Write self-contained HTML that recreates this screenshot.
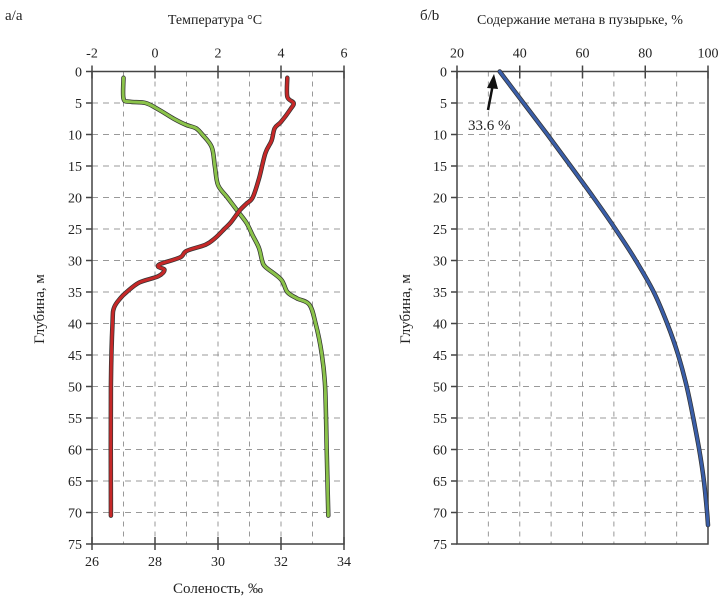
<!DOCTYPE html>
<html><head><meta charset="utf-8"><style>
body{margin:0;background:#fff;}
svg text{font-family:"Liberation Serif",serif;fill:#222;}
</style></head><body>
<svg id="c" width="727" height="603" viewBox="0 0 727 603" xmlns="http://www.w3.org/2000/svg"></svg>
<script>
const depthTicks=[0,5,10,15,20,25,30,35,40,45,50,55,60,65,70,75];
const tempTicks=[-2,0,2,4,6];
const salTicks=[26,28,30,32,34];
const methTicks=[20,40,60,80,100];
const tempDepth=[1,4.3,4.8,5,6,7.5,8.5,9,10,12,15,18,20,22,24,26,28,30,31,33,35,36,37,40,45,50,60,70.5];
const tempVal=[-1,-1,-0.8,-0.3,0.1,0.6,1.0,1.3,1.5,1.8,1.9,2.0,2.3,2.6,2.9,3.1,3.3,3.4,3.5,4.0,4.2,4.5,4.9,5.1,5.3,5.4,5.45,5.5];
const salDepth=[1,4,5,6,8,9,11,13,17,20,21,22,24,25,26.5,27.5,28.5,29.5,30.5,31,31.5,32.5,33.5,35,36,37.5,40,50,70.5];
const salVal=[32.2,32.2,32.4,32.3,32.0,31.8,31.7,31.5,31.3,31.1,30.9,30.7,30.4,30.2,29.9,29.6,29.0,28.8,28.2,28.1,28.3,28.1,27.5,27.1,26.9,26.7,26.65,26.6,26.6];
const methDepth=[0,5,10,15,20,25,30,35,40,45,50,55,60,65,70,72];
const methVal=[33.6,41.2,48.8,56.2,63.5,70.5,77,82.7,87,90.5,93.2,95.3,97.2,98.7,99.7,100];

const S=document.getElementById('c');const NS='http://www.w3.org/2000/svg';
function el(t,a,p){const e=document.createElementNS(NS,t);for(const k in a)e.setAttribute(k,a[k]);(p||S).appendChild(e);return e;}
function txt(x,y,s,size,anchor,name){const t=el('text',{x:x,y:y,'font-size':size,'text-anchor':anchor||'middle'});t.textContent=s;

return t;}
const Y0=71.5,YS=6.3;const yD=d=>Y0+d*YS;
function panel(L,R,xmin,xmax,xticks,pfx){
 const xs=v=>L+(v-xmin)/(xmax-xmin)*(R-L);
 const g=el('g',{});
 
 
 for(let v=xmin+(xmax-xmin)/8;v<xmax-1e-6;v+=(xmax-xmin)/8){el('line',{x1:xs(v),x2:xs(v),y1:yD(0),y2:yD(75),stroke:'#999','stroke-width':1,'stroke-dasharray':'5,5'},g);}
 depthTicks.forEach(d=>{if(d>0&&d<75)el('line',{x1:L,x2:R,y1:yD(d),y2:yD(d),stroke:'#999','stroke-width':1,'stroke-dasharray':'6,5'},g);});
 const f=el('rect',{x:L,y:yD(0),width:R-L,height:yD(75)-yD(0),fill:'none',stroke:'#444','stroke-width':1.5});
 
 
 depthTicks.forEach(d=>{el('line',{x1:L-6,x2:L,y1:yD(d),y2:yD(d),stroke:'#444','stroke-width':1.5});
  txt(L-10,yD(d)+5,String(d),14,'end',pfx+'-y-tick');});
 xticks.forEach(v=>{el('line',{x1:xs(v),x2:xs(v),y1:yD(0)-6,y2:yD(0)+7,stroke:'#444','stroke-width':1.5});
  txt(xs(v),yD(0)-14,String(v),14,'middle',pfx+'-top-tick');});
 return xs;
}
function smooth(P){let d='M'+P[0][0].toFixed(1)+','+P[0][1].toFixed(1);
 for(let i=0;i<P.length-1;i++){const p0=P[i-1]||P[i],p1=P[i],p2=P[i+1],p3=P[i+2]||P[i+1];
  const c1=[p1[0]+(p2[0]-p0[0])/6,p1[1]+(p2[1]-p0[1])/6],c2=[p2[0]-(p3[0]-p1[0])/6,p2[1]-(p3[1]-p1[1])/6];
  d+='C'+c1[0].toFixed(1)+','+c1[1].toFixed(1)+' '+c2[0].toFixed(1)+','+c2[1].toFixed(1)+' '+p2[0].toFixed(1)+','+p2[1].toFixed(1);}
 return d;}
function line(xs,xv,dv,col,w,name){const d=smooth(xv.map((v,i)=>[xs(v),yD(dv[i])]));
 el('path',{d:d,fill:'none',stroke:'#333','stroke-width':w+1.5,'stroke-linejoin':'round','stroke-linecap':'round'});
 const p=el('path',{d:d,fill:'none',stroke:col,'stroke-width':w,'stroke-linejoin':'round','stroke-linecap':'round'});
 
 }
const xt=panel(92,344,-2,6,tempTicks,'left');
const xsSal=v=>92+(v-26)/8*252;
salTicks.forEach(v=>{el('line',{x1:xsSal(v),x2:xsSal(v),y1:yD(75)-7,y2:yD(75)+6,stroke:'#444','stroke-width':1.5});
 txt(xsSal(v),yD(75)+22,String(v),14,'middle','bottom-tick');});
line(xt,tempVal,tempDepth,'#8bc34a',3,'temperature-line');
line(xsSal,salVal,salDepth,'#c62828',3,'salinity-line');
txt(5,20,'а/а',15,'start','panel-a-label');
txt(215,24,'Температура °C',14,'middle','top-axis-title');
txt(218,593,'Соленость, ‰',15,'middle','bottom-axis-title');
const yl=txt(0,0,'Глубина, м',15,'middle','left-y-axis-title');yl.setAttribute('transform','translate(44,309) rotate(-90)');
const xm=panel(457,708,20,100,methTicks,'right');
line(xm,methVal,methDepth,'#3a5ea8',3,'methane-line');
txt(420,20,'б/b',15,'start','panel-b-label');
txt(580,24,'Содержание метана в пузырьке, %',14,'middle','right-top-axis-title');
const yr=txt(0,0,'Глубина, м',15,'middle','right-y-axis-title');yr.setAttribute('transform','translate(410,309) rotate(-90)');
const ar=el('line',{x1:488,y1:110,x2:493,y2:84,stroke:'#111','stroke-width':2.5});


el('polygon',{points:'494,74 487,88 498,89',fill:'#111'});
txt(468,130,'33.6 %',15,'start','annotation-label');
</script>
</body></html>
